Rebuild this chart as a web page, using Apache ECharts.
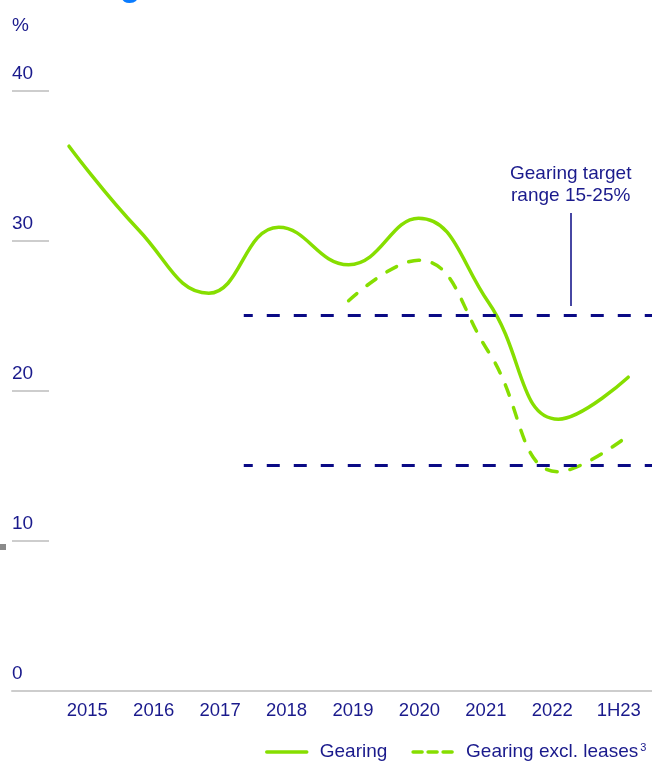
<!DOCTYPE html>
<html>
<head>
<meta charset="utf-8">
<script src="https://cdn.jsdelivr.net/npm/echarts@6/dist/echarts.min.js"></script>
<style>
  html, body { margin: 0; padding: 0; background: #ffffff; }
  #chart { width: 652px; height: 761px; }
</style>
</head>
<body>
<div id="chart"></div>
<script>
// Period labels along the bottom axis
const categories = ['2015', '2016', '2017', '2018', '2019', '2020', '2021', '2022', '1H23'];
// Gearing, %
const gearing = [36.3, 30.7, 26.5, 30.9, 28.4, 31.5, 25.9, 18.1, 20.9];
// Gearing excluding leases, % (reported from 2019)
const gearingExclLeases = [null, null, null, null, 26.0, 28.7, 22.6, 14.6, 17.0];
// Target gearing band, %
const targetRange = [15, 25];
// Value-axis ticks
const yTicks = [0, 10, 20, 30, 40];

const NAVY = '#1a1a8c';
const TARGET = '#0a0a85';
const GREEN = '#86de00';
const GRID_GREY = '#cdcdcd';
const FONT = 'Liberation Sans, Arial, sans-serif';

// Hidden numeric x scale used to place the series points
const X_MIN = -0.8155;
const X_MAX = 8.34;
const TARGET_START = 2.5;
const NOTE_X = 7.177;

const toPoints = arr => arr
  .map((v, i) => (v === null ? null : [i, v]))
  .filter(p => p !== null);

const chart = echarts.init(document.getElementById('chart'), null, { renderer: 'canvas' });

const option = {
  backgroundColor: '#ffffff',
  animation: false,
  graphic: [
    {
      type: 'text', x: 12, y: 4, silent: true,
      style: { text: 'Gearing', fill: '#0a7cff', font: 'bold 34px ' + FONT, verticalAlign: 'bottom', align: 'left' }
    },
    { type: 'rect', x: 0, y: 544, shape: { width: 6, height: 6 }, style: { fill: '#8a8a8a' }, silent: true }
  ],
  grid: [
    { left: 12, right: 0, top: 90.7, bottom: 70.3 },
    { left: 54, right: 0, top: 90.7, bottom: 70.3 }
  ],
  xAxis: [
    {
      type: 'value', gridIndex: 0, min: X_MIN, max: X_MAX,
      axisLine: { show: true, onZero: false, lineStyle: { color: GRID_GREY, width: 2 } },
      axisTick: { show: false }, axisLabel: { show: false }, splitLine: { show: false }
    },
    {
      type: 'category', gridIndex: 1, data: categories, boundaryGap: true,
      axisLine: { show: false }, axisTick: { show: false }, splitLine: { show: false },
      axisLabel: { color: NAVY, fontSize: 18.5, fontFamily: FONT, margin: 11, interval: 0 }
    }
  ],
  yAxis: [
    {
      type: 'value', gridIndex: 0, position: 'left',
      min: yTicks[0], max: yTicks[yTicks.length - 1], interval: yTicks[1] - yTicks[0],
      name: '%', nameLocation: 'end', nameGap: 55,
      nameTextStyle: { color: NAVY, fontSize: 19, fontFamily: FONT, align: 'left', verticalAlign: 'bottom' },
      axisLine: { show: false, onZero: false },
      axisTick: { show: true, inside: true, length: 37, lineStyle: { color: GRID_GREY, width: 2 } },
      splitLine: { show: false },
      axisLabel: {
        inside: true, margin: 0, color: NAVY, fontSize: 19, fontFamily: FONT,
        align: 'left', verticalAlign: 'bottom', padding: [0, 0, 7, 0]
      }
    },
    { type: 'value', gridIndex: 1, min: 0, max: 40, show: false }
  ],
  legend: {
    left: 265, top: 742, padding: 0,
    itemWidth: 40, itemHeight: 14, itemGap: 24,
    itemStyle: { opacity: 0 },
    textStyle: {
      color: NAVY, fontSize: 19, fontFamily: FONT, lineHeight: 20, padding: [0, 0, 0, 8],
      rich: {
        t: { color: NAVY, fontSize: 19, fontFamily: FONT, lineHeight: 20 },
        sup: { color: NAVY, fontSize: 11, fontFamily: FONT, verticalAlign: 'top', padding: [0, 0, 0, 2] }
      }
    },
    formatter: name => (name === 'Gearing excl. leases' ? '{t|' + name + '}{sup|3}' : '{t|' + name + '}'),
    data: [
      { name: 'Gearing', itemStyle: { opacity: 0 }, lineStyle: { width: 3.5, type: 'solid' } },
      { name: 'Gearing excl. leases', itemStyle: { opacity: 0 }, lineStyle: { width: 3.5, type: [9, 6] } }
    ]
  },
  series: [
    {
      name: 'Gearing excl. leases',
      type: 'line', xAxisIndex: 0, yAxisIndex: 0,
      data: toPoints(gearingExclLeases),
      smooth: 0.45, symbol: 'none', silent: true,
      lineStyle: { color: GREEN, width: 3.5, type: [11, 13], cap: 'round' },
      itemStyle: { color: GREEN }
    },
    {
      name: 'Gearing',
      type: 'line', xAxisIndex: 0, yAxisIndex: 0,
      data: toPoints(gearing),
      smooth: 0.45, symbol: 'none', silent: true,
      lineStyle: { color: GREEN, width: 3.5, cap: 'round' },
      itemStyle: { color: GREEN },
      markLine: {
        silent: true, symbol: 'none', animation: false,
        data: [
          [
            { coord: [TARGET_START, targetRange[1]], lineStyle: { color: TARGET, width: 3, type: [13, 14], dashOffset: 4 }, label: { show: false } },
            { coord: [X_MAX, targetRange[1]] }
          ],
          [
            { coord: [TARGET_START, targetRange[0]], lineStyle: { color: TARGET, width: 3, type: [13, 14], dashOffset: 4 }, label: { show: false } },
            { coord: [X_MAX, targetRange[0]] }
          ],
          [
            {
              coord: [NOTE_X, 25.65],
              lineStyle: { color: TARGET, width: 1.5, type: 'solid' },
              label: {
                show: true, position: 'end', distance: 6,
                formatter: 'Gearing target\nrange ' + targetRange[0] + '-' + targetRange[1] + '%',
                color: NAVY, fontSize: 19, fontFamily: FONT, lineHeight: 22, align: 'center'
              }
            },
            { coord: [NOTE_X, 31.85] }
          ]
        ]
      }
    }
  ]
};

chart.setOption(option);
</script>
</body>
</html>
